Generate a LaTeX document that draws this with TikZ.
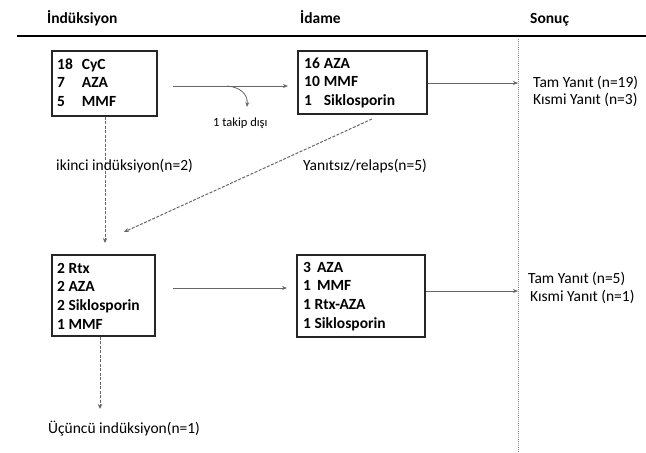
\documentclass[tikz,border=0pt]{standalone}
\usepackage{fontspec}
\setmainfont{Carlito}
\usetikzlibrary{arrows.meta}
\begin{document}
\begin{tikzpicture}[x=1pt,y=-1pt,
  font=\fontsize{15.5}{18.7}\selectfont,
  box/.style={draw=black!85, line width=1.7pt, inner sep=0pt, anchor=north west},
  hdr/.style={font=\fontsize{15.5}{18}\selectfont\bfseries, anchor=base west, inner sep=0pt},
  lbl/.style={anchor=base west, inner sep=0pt},
  arr/.style={draw=black!60, line width=0.9pt, -{Stealth[length=5pt,width=4pt]}},
  darr/.style={draw=black!60, line width=1pt, dash pattern=on 3pt off 1.5pt, -{Stealth[length=5pt,width=4.5pt]}}]
\useasboundingbox (0,0) rectangle (646,453);
% headers
\node[hdr] (h1) at (47,23) {İndüksiyon};
\node[hdr] (h2) at (300,23) {İdame};
\node[hdr] (h3) at (530,23) {Sonuç};
\coordinate (rl) at (17,36);
\coordinate (rr) at (646,36);
\draw[line width=2.4pt] (rl) -- (rr);
\coordinate (vt) at (518,39);
\coordinate (vb) at (518,453);
\draw[black!45, line width=0.8pt, dash pattern=on 1pt off 1pt] (vt) -- (vb);
% boxes
\node[box, minimum width=105pt, minimum height=65pt] (b1) at (51,50) {};
\node[lbl] (t1) at (57,69) {\bfseries\begin{tabular}[t]{@{}l@{\hspace{9pt}}l@{}}18&CyC\\7&AZA\\5&MMF\end{tabular}};
\node[box, minimum width=129pt, minimum height=63pt] (b2) at (297,50) {};
\node[lbl] (t2) at (304,68) {\bfseries\begin{tabular}[t]{@{}l@{\hspace{4pt}}l@{}}16&AZA\\10&MMF\\1&Siklosporin\end{tabular}};
\node[box, minimum width=103pt, minimum height=81pt] (b3) at (51,254) {};
\node[lbl] (t3) at (57,273) {\bfseries\begin{tabular}[t]{@{}l@{}}2 Rtx\\2 AZA\\2 Siklosporin\\1 MMF\end{tabular}};
\node[box, minimum width=128pt, minimum height=82pt] (b4) at (296,254) {};
\node[lbl] (t4) at (303,272) {\bfseries\begin{tabular}[t]{@{}l@{}}3\hspace{6pt}AZA\\1\hspace{6pt}MMF\\1 Rtx-AZA\\1 Siklosporin\end{tabular}};
% top row arrows
\coordinate (a1s) at (173,86);
\coordinate (a1e) at (288,86);
\draw[arr] (a1s) -- (a1e);
\coordinate (cs) at (227,86);
\coordinate (ce) at (247,107);
\draw[arr, line width=0.8pt] (cs) .. controls (240,87) and (248,94) .. (ce);
\node[lbl, font=\fontsize{12.5}{15}\selectfont] (tk) at (213,126) {1 takip dışı};
\coordinate (a2e) at (518,83);
\draw[arr] (b2.east |- a2e) -- (a2e);
\node[lbl] (r1) at (533,87) {Tam Yanıt (n=19)};
\node[lbl] (r2) at (533,104) {Kısmi Yanıt (n=3)};
% dashed
\coordinate (d1e) at (105,243);
\draw[darr] (b1.south -| d1e) -- (d1e);
\node[lbl] (ik) at (56,170) {ikinci indüksiyon(n=2)};
\coordinate (d2s) at (372,119);
\coordinate (d2e) at (124,232);
\draw[darr] (d2s) -- (d2e);
\node[lbl] (yr) at (303,170) {Yanıtsız/relaps(n=5)};
% bottom row
\coordinate (a3s) at (173,288);
\coordinate (a3e) at (287,288);
\draw[arr] (a3s) -- (a3e);
\coordinate (a4e) at (518,291);
\draw[arr] (b4.east |- a4e) -- (a4e);
\node[lbl] (r3) at (528,283) {Tam Yanıt (n=5)};
\node[lbl] (r4) at (530,301) {Kısmi Yanıt (n=1)};
\coordinate (d3e) at (100,409);
\draw[darr] (b3.south -| d3e) -- (d3e);
\node[lbl] (uc) at (48,433) {Üçüncü indüksiyon(n=1)};
\end{tikzpicture}
\end{document}
